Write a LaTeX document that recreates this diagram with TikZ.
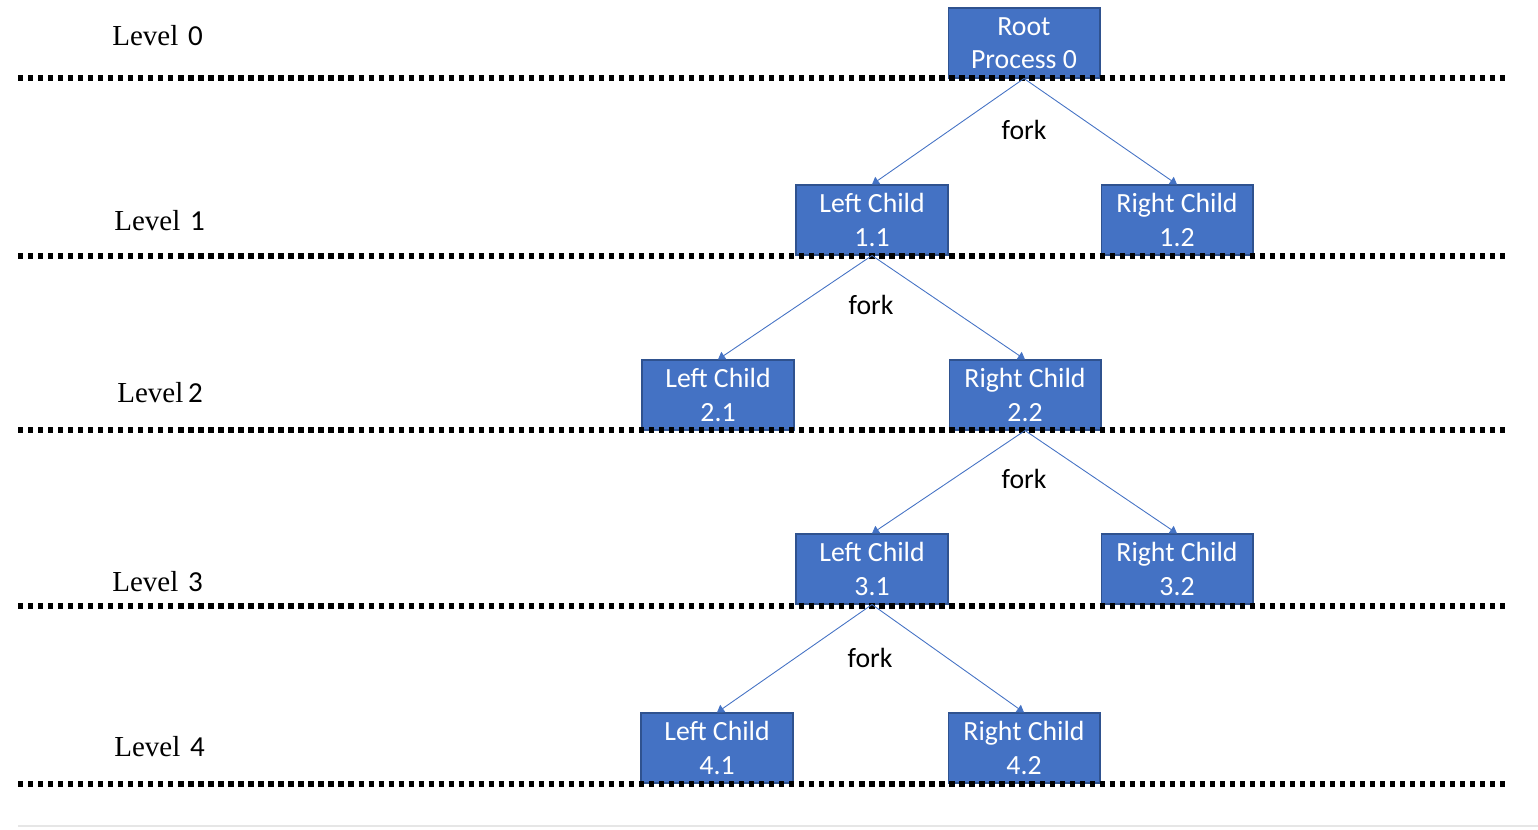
\documentclass[tikz,border=0pt]{standalone}
\usepackage{fontspec}
\setmainfont{Carlito}
\newfontfamily\tnr{Liberation Serif}
\usetikzlibrary{arrows.meta}
\definecolor{boxfill}{HTML}{4472C4}
\definecolor{boxline}{HTML}{2F528F}
\definecolor{faint}{HTML}{E6E6E6}
\tikzset{
  procbox/.style={draw=boxline, line width=0.6pt, fill=boxfill, text=white,
    minimum width=3.04cm, minimum height=1.4cm, inner sep=0pt, align=center,
    font=\fontsize{15.8}{19}\selectfont},
  forkedge/.style={draw=boxfill, line width=0.5pt, -{Triangle[length=4pt,width=5pt]}},
  levelsep/.style={line width=3pt, dash pattern=on 3pt off 2.7pt},
  forklabel/.style={font=\fontsize{15.8}{19}\selectfont},
  levellabel/.style={anchor=west, font=\fontsize{16.5}{19}\selectfont, inner sep=0pt}
}
\begin{document}
\begin{tikzpicture}[x=0.02cm, y=-0.02cm]
\useasboundingbox (0,0) rectangle (1538,829);
% boxes
\node[procbox] (r)   at (1024,43)  {Root\\Process 0};
\node[procbox] (l11) at (872,220)  {Left Child\\1.1};
\node[procbox] (r12) at (1177,220) {Right Child\\1.2};
\node[procbox] (l21) at (718,395)  {Left Child\\2.1};
\node[procbox] (r22) at (1025,395) {Right Child\\2.2};
\node[procbox] (l31) at (872,569)  {Left Child\\3.1};
\node[procbox] (r32) at (1177,569) {Right Child\\3.2};
\node[procbox] (l41) at (717,748)  {Left Child\\4.1};
\node[procbox] (r42) at (1024,748) {Right Child\\4.2};
% level labels
\node[levellabel] (lv0) at (112,36)  {{\tnr Level}\,\,0};
\node[levellabel] (lv1) at (114,221) {{\tnr Level}\,\,1};
\node[levellabel] (lv2) at (117,393) {{\tnr Level}\,2};
\node[levellabel] (lv3) at (112,582) {{\tnr Level}\,\,3};
\node[levellabel] (lv4) at (114,747) {{\tnr Level}\,\,4};
% separators
\coordinate (s0a) at (18,78);  \coordinate (s0b) at (1510,78);
\coordinate (s1a) at (18,256); \coordinate (s1b) at (1510,256);
\coordinate (s2a) at (18,430); \coordinate (s2b) at (1510,430);
\coordinate (s3a) at (18,606); \coordinate (s3b) at (1510,606);
\coordinate (s4a) at (18,784); \coordinate (s4b) at (1510,784);
\foreach \i in {0,...,4} \draw[levelsep] (s\i a) -- (s\i b);
\coordinate (ga) at (18,826); \coordinate (gb) at (1538,826);
\draw[faint, line width=0.6pt] (ga) -- (gb);
% connectors
\draw[forkedge] (r.south) -- (l11.north);
\draw[forkedge] (r.south) -- (r12.north);
\draw[forkedge] (l11.south) -- (l21.north);
\draw[forkedge] (l11.south) -- (r22.north);
\draw[forkedge] (r22.south) -- (l31.north);
\draw[forkedge] (r22.south) -- (r32.north);
\draw[forkedge] (l31.south) -- (l41.north);
\draw[forkedge] (l31.south) -- (r42.north);
% fork labels
\node[forklabel] (f1) at (1024,130) {fork};
\node[forklabel] (f2) at (871,305)  {fork};
\node[forklabel] (f3) at (1024,479) {fork};
\node[forklabel] (f4) at (870,658)  {fork};
\end{tikzpicture}
\end{document}
